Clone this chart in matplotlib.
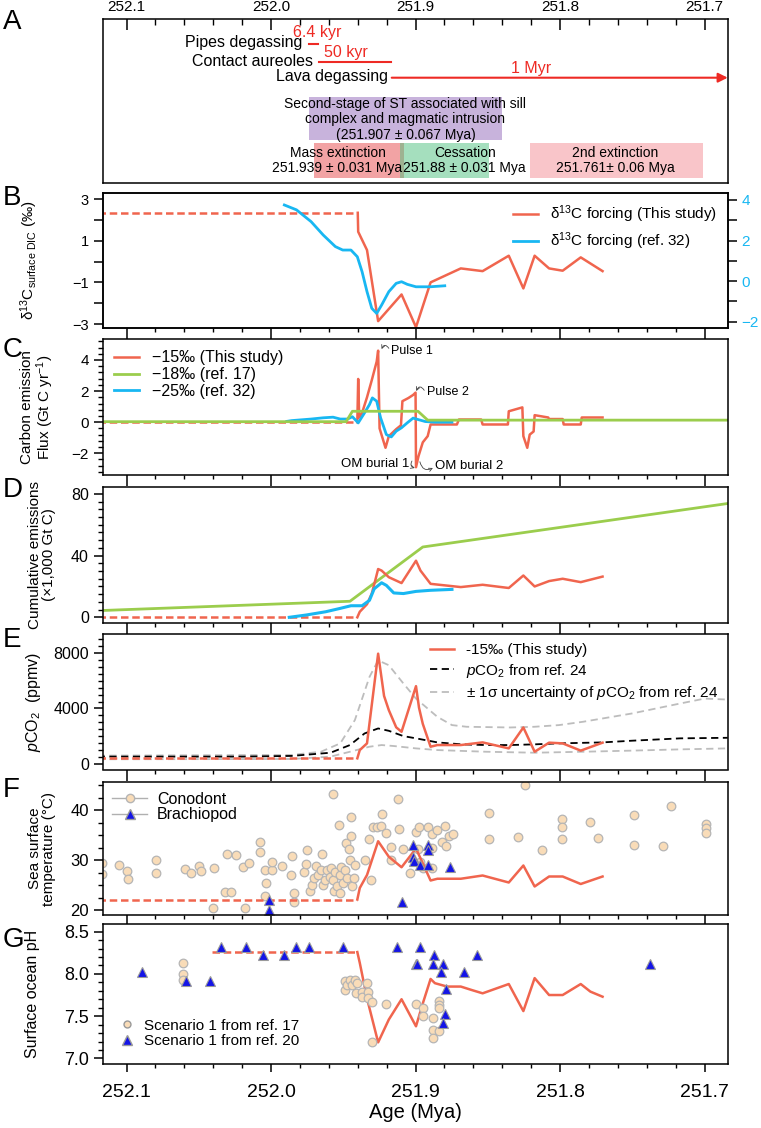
import matplotlib.pyplot as plt
from matplotlib.lines import Line2D
from matplotlib.patches import Rectangle
from matplotlib.ticker import MultipleLocator, FixedLocator, FuncFormatter

plt.rcParams['font.family'] = ['Liberation Sans', 'DejaVu Sans']
plt.rcParams['mathtext.fontset'] = 'custom'
plt.rcParams['mathtext.rm'] = 'Liberation Sans'
plt.rcParams['mathtext.it'] = 'Liberation Sans:italic'
plt.rcParams['axes.linewidth'] = 1.1

RED = '#f0654e'
BLUE = '#18b7f2'
GREEN = '#9bcd4d'
PEACH = '#f9dcb8'
TRI = '#1414e6'

# ---- panel A: events (Mya)
sill_age, sill_err = 251.907, 0.067
event_names = ['Mass extinction', 'Cessation', '2nd extinction']
event_age = [251.939, 251.88, 251.761]
event_err = [0.031, 0.031, 0.06]
event_text = ['251.939 ± 0.031 Mya', '251.88 ± 0.031 Mya', '251.761± 0.06 Mya']
degas_names = ['Pipes degassing', 'Contact aureoles', 'Lava degassing']
degas_start = [251.974, 251.967, 251.9165]
degas_dur = [0.0064, 0.050, 1.0]
degas_dur_text = ['6.4 kyr', '50 kyr', '1 Myr']

# ---- panel B: d13C surface DIC
b_pre_age = [252.12, 251.940]
b_pre = [2.34, 2.34]
b_red_age = [251.9400, 251.9397, 251.9336, 251.9259, 251.9097, 251.8997, 251.8896, 251.8687,
             251.8536, 251.8355, 251.8254, 251.8176, 251.8076, 251.7982, 251.7857, 251.7706]
b_red = [2.34, 1.43, 0.55, -2.86, -1.58, -3.15, -1.0, -0.33, -0.46, 0.28, -1.29, 0.28,
         -0.33, -0.44, 0.2, -0.46]
b_blue_age = [251.9908, 251.9824, 251.9723, 251.9639, 251.9555, 251.9504, 251.9447, 251.9403,
              251.9370, 251.9336, 251.9303, 251.9269, 251.9235, 251.9185, 251.9134, 251.9097,
              251.9057, 251.8997, 251.8899, 251.8798]
b_blue = [3.75, 3.51, 2.93, 2.27, 1.70, 1.53, 1.53, 1.20, 0.46, -0.52, -1.34, -1.59, -1.18,
          -0.52, -0.11, -0.03, -0.16, -0.28, -0.28, -0.23]

# ---- panel C: carbon emission flux
c_pre_age = [252.12, 251.9403]
c_pre = [0.0, 0.0]
c_red_age = [251.9403, 251.9397, 251.9390, 251.9370, 251.9336, 251.9303, 251.9269, 251.9259,
             251.9249, 251.9208, 251.9185, 251.9134, 251.9101, 251.9091, 251.9050, 251.9017,
             251.9000, 251.8997, 251.8980, 251.8950, 251.8916, 251.8896, 251.8714, 251.8700,
             251.8546, 251.8536, 251.8361, 251.8355, 251.8261, 251.8254, 251.8227, 251.8210,
             251.8183, 251.8176, 251.8082, 251.8076, 251.7982, 251.7975, 251.7857, 251.7850,
             251.7706]
c_red = [0.0, 2.78, 0.3, 0.6, 1.6, 2.7, 3.9, 4.6, -0.4, -1.65, -0.9, -0.45, -0.2, 1.35, 1.55,
         1.75, 1.9, -2.9, -2.2, -1.3, -0.9, -0.15, -0.15, 0.17, 0.17, -0.15, -0.15, 0.7, 0.95,
         -0.9, -1.65, -0.8, -0.6, 0.45, 0.3, 0.2, 0.2, -0.15, -0.15, 0.3, 0.3]
c_green_age = [252.12, 251.9481, 251.9437, 251.8983, 251.8916, 251.68]
c_green = [0.03, 0.03, 0.7, 0.7, 0.13, 0.13]
c_blue_age = [251.9891, 251.9857, 251.9723, 251.9639, 251.9571, 251.9521, 251.9471, 251.9437,
              251.9397, 251.9353, 251.9319, 251.9299, 251.9269, 251.9242, 251.9202, 251.9168,
              251.9134, 251.9097, 251.9057, 251.9017, 251.8983, 251.8933, 251.8866, 251.8748]
c_blue = [0.05, 0.1, 0.2, 0.28, 0.32, 0.2, 0.2, 0.35, -0.05, 0.6, 1.13, 1.56, 1.35, 0.28,
          -0.8, -0.95, -0.58, -0.36, -0.04, 0.26, 0.17, 0.04, 0.0, 0.0]

# ---- panel D: cumulative emissions (x1000 Gt C)
d_pre_age = [252.12, 251.9403]
d_pre = [0.0, 0.0]
d_red_age = [251.9403, 251.9386, 251.9336, 251.9303, 251.9279, 251.9259, 251.9235, 251.9185,
             251.9097, 251.8997, 251.8966, 251.8896, 251.8687, 251.8536, 251.8355, 251.8254,
             251.8176, 251.8076, 251.7982, 251.7857, 251.7706]
d_red = [0.0, 3.6, 8.5, 15.4, 23.9, 31.3, 30.3, 26.0, 22.2, 36.7, 30.3, 21.7, 19.6, 21.1,
         19.0, 27.1, 20.0, 23.5, 25.0, 22.8, 26.4]
d_green_age = [252.12, 251.9454, 251.8950, 251.684]
d_green = [4.3, 10.4, 45.6, 73.8]
d_blue_age = [251.9874, 251.9756, 251.9622, 251.9521, 251.9447, 251.9370, 251.9319, 251.9286,
              251.9235, 251.9202, 251.9151, 251.9084, 251.8997, 251.8899, 251.8748]
d_blue = [0.0, 1.5, 3.6, 5.8, 7.5, 7.5, 11.0, 18.5, 22.4, 20.7, 15.8, 15.4, 16.8, 17.5, 18.1]

# ---- panel E: pCO2 (ppmv)
e_pre_age = [252.12, 251.9403]
e_pre = [430, 430]
e_red_age = [251.9403, 251.9386, 251.9336, 251.9259, 251.9218, 251.9185, 251.9134, 251.9097,
             251.8997, 251.8976, 251.8950, 251.8896, 251.8849, 251.8687, 251.8536, 251.8355,
             251.8254, 251.8176, 251.8076, 251.7982, 251.7857, 251.7706]
e_red = [430, 1020, 1500, 7930, 4900, 3880, 2650, 2330, 5600, 4050, 2900, 1260, 1380, 1380,
         1570, 1140, 2640, 900, 1550, 1500, 980, 1550]
e_ref_age = [252.12, 252.0193, 251.9857, 251.9588, 251.9454, 251.9353, 251.9259, 251.9185,
             251.9084, 251.8997, 251.8849, 251.8681, 251.8513, 251.8345, 251.8176, 251.8008,
             251.7706, 251.7504, 251.7168, 251.684]
e_ref = [550, 550, 600, 830, 1380, 2210, 2570, 2400, 2020, 1860, 1570, 1430, 1380, 1380,
         1430, 1500, 1570, 1690, 1860, 1900]
e_hi_age = [252.12, 251.9857, 251.9655, 251.9521, 251.9420, 251.9319, 251.9259, 251.9185,
            251.9084, 251.8997, 251.8849, 251.8748, 251.8647, 251.8345, 251.8176, 251.8008,
            251.7840, 251.7504, 251.7168, 251.7000, 251.684]
e_hi = [620, 670, 900, 1500, 3170, 6260, 7450, 7100, 5790, 4710, 3400, 2810, 2690, 2640,
        2690, 2810, 3050, 3640, 4360, 4710, 4640]
e_lo_age = [252.12, 251.9857, 251.9588, 251.9454, 251.9319, 251.9235, 251.9151, 251.8997,
            251.8849, 251.8513, 251.8176, 251.7840, 251.7504, 251.7168, 251.684]
e_lo = [360, 380, 550, 900, 1260, 1380, 1310, 1140, 1020, 900, 830, 900, 980, 1070, 1140]

# ---- panel F: sea surface temperature
f_pre_age = [252.12, 251.9403]
f_pre = [22.1, 22.1]
f_red_age = [251.9403, 251.9386, 251.9336, 251.9259, 251.9185, 251.9097, 251.8997, 251.8896,
             251.8849, 251.8687, 251.8536, 251.8355, 251.8254, 251.8176, 251.8076, 251.7982,
             251.7857, 251.7706]
f_red = [22.1, 24.4, 27.0, 33.75, 30.65, 28.55, 32.3, 25.9, 26.25, 26.25, 26.9, 25.5, 28.9,
         24.7, 26.7, 26.7, 25.2, 26.7]
cono_age = [252.117, 252.117, 252.105, 252.100, 252.099, 252.0798, 252.0798, 252.0597,
            252.0556, 252.0496, 252.0486, 252.0395, 252.0405, 252.0318, 252.0304, 252.0274,
            252.0244, 252.0193, 252.0183, 252.0153, 252.0076, 252.0076, 252.0042, 252.0035,
            252.0039, 251.9992, 251.9992, 251.9924, 251.9864, 251.9857, 251.9844, 251.9840,
            251.9773, 251.9756, 251.9750, 251.9729, 251.9716, 251.9706, 251.9689, 251.9672,
            251.9655, 251.9645, 251.9639, 251.9629, 251.9615, 251.9595, 251.9588, 251.9571,
            251.9568, 251.9561, 251.9555, 251.9545, 251.9531, 251.9521, 251.9521, 251.9514,
            251.9504, 251.9487, 251.9481, 251.9471, 251.9461, 251.9454, 251.9447, 251.9447,
            251.9437, 251.9420, 251.9427, 251.9353, 251.9319, 251.9309, 251.9292, 251.9269,
            251.9242, 251.9229, 251.9202, 251.9168, 251.9168, 251.9124, 251.9118, 251.9084,
            251.9040, 251.9000, 251.8976, 251.8983, 251.8966, 251.8950, 251.8916, 251.8889,
            251.8889, 251.8889, 251.8855, 251.8815, 251.8798, 251.8788, 251.8771, 251.8741,
            251.8489, 251.8489, 251.8294, 251.8244, 251.8126, 251.7985, 251.7985, 251.7985,
            251.7790, 251.7740, 251.7487, 251.7487, 251.7286, 251.7235, 251.6990, 251.6990,
            251.6990]
cono_sst = [29.5, 27.3, 29.1, 27.9, 26.25, 30.0, 27.4, 28.2, 27.4, 28.8, 27.9, 28.35, 20.45,
            23.55, 31.3, 23.55, 31.1, 28.7, 20.45, 29.5, 33.6, 31.65, 28.0, 25.4, 22.8, 28.0,
            29.7, 28.8, 27.05, 30.8, 23.4, 21.6, 27.7, 29.2, 32.1, 23.75, 25.05, 26.4, 28.8,
            27.05, 28.0, 31.2, 25.05, 26.05, 28.0, 26.7, 28.35, 43.15, 26.05, 23.75, 27.7,
            24.75, 37.05, 27.05, 23.4, 28.7, 25.4, 28.0, 33.4, 26.4, 32.3, 30.0, 34.9, 38.55,
            24.75, 29.0, 26.4, 30.1, 34.3, 26.05, 36.6, 36.7, 36.9, 39.2, 35.4, 32.6, 30.0,
            42.2, 36.25, 32.3, 27.4, 35.6, 36.7, 32.3, 29.7, 28.35, 36.6, 35.25, 32.5, 28.35,
            36.05, 33.6, 36.9, 32.75, 34.75, 35.15, 39.35, 34.3, 34.6, 45.1, 32.1, 38.15,
            36.6, 34.3, 37.7, 34.5, 39.1, 33.0, 32.8, 40.8, 37.25, 36.4, 35.4]
brach_age = [252.0015, 252.0015, 251.9097, 251.9017, 251.9017, 251.9010, 251.8966, 251.8916,
             251.8916, 251.8916, 251.8761]
brach_sst = [22.1, 20.1, 21.6, 33.0, 30.65, 29.9, 29.0, 33.0, 32.0, 29.0, 28.7]

# ---- panel G: surface ocean pH
g_pre_age = [252.0412, 251.9403]
g_pre = [8.258, 8.258]
g_red_age = [251.9403, 251.9386, 251.9336, 251.9259, 251.9185, 251.9097, 251.8997, 251.8950,
             251.8896, 251.8866, 251.8782, 251.8687, 251.8613, 251.8536, 251.8355, 251.8254,
             251.8176, 251.8076, 251.7982, 251.7857, 251.7790, 251.7706]
g_red = [8.258, 8.13, 7.71, 7.19, 7.46, 7.70, 7.38, 7.65, 7.94, 7.89, 7.85, 7.85, 7.81, 7.77,
         7.88, 7.56, 7.95, 7.75, 7.75, 7.88, 7.79, 7.73]
ph17_age = [252.0607, 252.0607, 252.0607, 251.9487, 251.9487, 251.9477, 251.9454, 251.9437,
            251.9420, 251.9403, 251.9410, 251.9370, 251.9370, 251.9336, 251.9329, 251.9329,
            251.9303, 251.9303, 251.9202, 251.9000, 251.8950, 251.8950, 251.8882, 251.8882,
            251.8882, 251.8839, 251.8839, 251.8839, 251.8839]
ph17 = [8.13, 8.0, 7.93, 7.91, 7.81, 7.87, 7.93, 7.87, 7.93, 7.89, 7.77, 7.79, 7.73, 7.89,
        7.79, 7.71, 7.67, 7.19, 7.64, 7.64, 7.60, 7.50, 7.48, 7.34, 7.24, 7.68, 7.63, 7.60, 7.32]
ph20_age = [252.0892, 252.0587, 252.0422, 252.0345, 252.0176, 252.0059, 251.9908, 251.9824,
            251.9739, 251.9504, 251.9128, 251.9000, 251.8990, 251.8966, 251.8872, 251.8882,
            251.8808, 251.8822, 251.8788, 251.8798, 251.8808, 251.8664, 251.8573, 251.7377]
ph20 = [8.02, 7.91, 7.91, 8.32, 8.32, 8.22, 8.22, 8.32, 8.32, 8.32, 8.32, 8.12, 8.12, 8.32,
        8.22, 8.12, 8.12, 8.02, 7.82, 7.52, 7.42, 8.02, 8.22, 8.12]

XLIM = (252.1165, 251.684)
H = 1128.0


def make_ax(top, bottom):
    return fig.add_axes([102.7 / 761, 1 - bottom / H, 625 / 761, (bottom - top) / H])


def style_x(ax, last=False):
    ax.set_xlim(XLIM)
    ax.xaxis.set_major_locator(MultipleLocator(0.1))
    ax.xaxis.set_minor_locator(MultipleLocator(0.02))
    if last:
        ax.tick_params(axis='x', which='major', direction='out', length=5.5, width=1.1,
                       labelsize=14, pad=9)
        ax.tick_params(axis='x', which='minor', direction='out', length=3, width=1)
    else:
        ax.tick_params(axis='x', which='major', direction='out', length=8, width=1.1,
                       labelbottom=False)
        ax.tick_params(axis='x', which='minor', direction='out', length=3.2, width=1)


def style_y(ax, size):
    ax.tick_params(axis='y', which='major', direction='out', length=6.5, width=1.1,
                   labelsize=size)
    ax.tick_params(axis='y', which='minor', direction='out', length=3.5, width=1)


fig = plt.figure(figsize=(7.61, 11.28), dpi=100)

# ---------------- A
axA = make_ax(19.3, 183.3)
axA.set_xlim(XLIM)
axA.set_ylim(183.3, 19.3)
axA.set_yticks([])
axA.xaxis.tick_top()
axA.xaxis.set_major_locator(MultipleLocator(0.1))
axA.xaxis.set_minor_locator(MultipleLocator(0.02))
axA.xaxis.set_major_formatter(FuncFormatter(lambda v, p: f'{v:.1f}'))
axA.tick_params(axis='x', which='major', direction='in', length=8, width=1.1, labelsize=11, pad=4)
axA.tick_params(axis='x', which='minor', direction='in', length=4.5, width=1)

axA.add_patch(Rectangle((sill_age - sill_err, 96.7), 2 * sill_err, 43.3, color='#c8b3dc', lw=0))
axA.text(sill_age, 104.3, 'Second-stage of ST associated with sill', ha='center', va='center', fontsize=10)
axA.text(sill_age, 119.5, 'complex and magmatic intrusion', ha='center', va='center', fontsize=10)
axA.text(sill_age, 135, f'({sill_age} ± {sill_err} Mya)', ha='center', va='center', fontsize=10)

box_colors = ['#e8585a', '#4cc17f', '#f6a7ad']
box_alpha = [0.55, 0.5, 0.65]
label_x = [251.954, 251.866, 251.762]
for i in range(3):
    axA.add_patch(Rectangle((event_age[i] - event_err[i], 142.7), 2 * event_err[i], 35.6,
                            color=box_colors[i], alpha=box_alpha[i], lw=0))
    axA.text(label_x[i], 152.7, event_names[i], ha='center', va='center', fontsize=10)
    axA.text(label_x[i], 168.3, event_text[i], ha='center', va='center', fontsize=10)

dg_y = [44.3, 61.7, 77.7]
for i in range(2):
    axA.plot([degas_start[i], degas_start[i] - degas_dur[i]], [dg_y[i], dg_y[i]], color='#ee2a24', lw=1.5)
axA.annotate('', xy=(XLIM[1], dg_y[2]), xytext=(degas_start[2], dg_y[2]),
             arrowprops=dict(arrowstyle='-|>', color='#ee2a24', lw=1.5, mutation_scale=14,
                             shrinkA=0, shrinkB=0))
axA.text(251.978, 43, degas_names[0], ha='right', va='center', fontsize=11.5)
axA.text(251.971, 61, degas_names[1], ha='right', va='center', fontsize=11.5)
axA.text(251.919, 76.5, degas_names[2], ha='right', va='center', fontsize=11.5)
axA.text(251.968, 32.5, degas_dur_text[0], ha='center', va='center', fontsize=11.5, color='#ee2a24')
axA.text(251.948, 52, degas_dur_text[1], ha='center', va='center', fontsize=11.5, color='#ee2a24')
axA.text(251.820, 69, degas_dur_text[2], ha='center', va='center', fontsize=11.5, color='#ee2a24')

# ---------------- B
axB = make_ax(193, 328)
axB.plot(b_pre_age, b_pre, color=RED, lw=1.8, ls=(0, (3, 1.5)))
axB.plot(b_red_age, b_red, color=RED, lw=1.8)
axB.set_ylim(-3.19, 3.29)
axB.yaxis.set_major_locator(FixedLocator([-3, -2, -1, 0, 1, 2, 3]))
axB.yaxis.set_major_formatter(FuncFormatter(lambda v, p: f'{v:.0f}'.replace('-', '\u2212') if int(round(v)) % 2 else ''))
style_x(axB)
style_y(axB, 10.5)
axB.set_ylabel('δ$^{13}$C$_{\\mathrm{surface\\ DIC}}$ (‰)', fontsize=11)
axB.yaxis.set_label_coords(-0.1, 0.5)
axBr = axB.twinx()
axBr.plot(b_blue_age, b_blue, color=BLUE, lw=2)
axBr.set_ylim(-2.31, 4.34)
axBr.yaxis.set_major_locator(MultipleLocator(2))
axBr.yaxis.set_minor_locator(MultipleLocator(1))
axBr.tick_params(axis='y', which='major', direction='out', length=6.5, width=1.1,
                 labelsize=11, labelcolor=BLUE)
axBr.tick_params(axis='y', which='minor', direction='out', length=6.5, width=1.1)
axBr.set_xlim(XLIM)
hB = [Line2D([], [], color=RED, lw=1.8), Line2D([], [], color=BLUE, lw=2)]
axB.legend(hB, ['δ$^{13}$C forcing (This study)', 'δ$^{13}$C forcing (ref. 32)'],
           loc='upper right', frameon=False, fontsize=11, handlelength=1.6,
           handletextpad=0.8, labelspacing=0.35, borderaxespad=0.3)

# ---------------- C
axC = make_ax(339, 475)
axC.plot(c_pre_age, c_pre, color=RED, lw=1.8, ls=(0, (3, 1.5)))
axC.plot(c_red_age, c_red, color=RED, lw=1.8)
axC.plot(c_blue_age, c_blue, color=BLUE, lw=2)
axC.plot(c_green_age, c_green, color=GREEN, lw=2)
axC.set_ylim(-3.4, 5.35)
axC.yaxis.set_major_locator(MultipleLocator(2))
axC.yaxis.set_minor_locator(MultipleLocator(0.4))
style_x(axC)
style_y(axC, 11)
axC.set_ylabel('Carbon emission\nFlux (Gt C yr$^{-1}$)', fontsize=11, linespacing=1.0)
axC.yaxis.set_label_coords(-0.075, 0.5)
hC = [Line2D([], [], color=RED, lw=1.8), Line2D([], [], color=GREEN, lw=2),
      Line2D([], [], color=BLUE, lw=2)]
axC.legend(hC, ['\u221215‰ (This study)', '\u221218‰ (ref. 17)', '\u221225‰ (ref. 32)'],
           loc='upper left', frameon=False, fontsize=11.5, handlelength=1.6,
           handletextpad=0.8, labelspacing=0.12, borderaxespad=0.3)
arrow_kw = dict(arrowstyle='->', lw=0.6, color='#444444', mutation_scale=6, shrinkA=0, shrinkB=0)
axC.text(251.9168, 4.56, 'Pulse 1', ha='left', va='center', fontsize=9)
axC.annotate('', xy=(251.9235, 4.7), xytext=(251.9185, 4.75),
             arrowprops=dict(connectionstyle='arc3,rad=0.9', **arrow_kw))
axC.text(251.8923, 1.95, 'Pulse 2', ha='left', va='center', fontsize=9)
axC.annotate('', xy=(251.8995, 2.0), xytext=(251.8940, 2.05),
             arrowprops=dict(connectionstyle='arc3,rad=0.9', **arrow_kw))
axC.text(251.9040, -2.72, 'OM burial 1', ha='right', va='center', fontsize=9.5)
axC.annotate('', xy=(251.9005, -2.95), xytext=(251.9025, -2.5),
             arrowprops=dict(connectionstyle='arc3,rad=0.6', **arrow_kw))
axC.text(251.8866, -2.85, 'OM burial 2', ha='left', va='center', fontsize=9.5)
axC.annotate('', xy=(251.8880, -2.95), xytext=(251.8970, -2.55),
             arrowprops=dict(connectionstyle='arc3,rad=0.6', **arrow_kw))

# ---------------- D
axD = make_ax(487, 622.7)
axD.plot(d_green_age, d_green, color=GREEN, lw=2)
axD.plot(d_pre_age, d_pre, color=RED, lw=1.8, ls=(0, (3, 1.5)))
axD.plot(d_red_age, d_red, color=RED, lw=1.8)
axD.plot(d_blue_age, d_blue, color=BLUE, lw=2.2)
axD.set_ylim(-3.5, 84.5)
axD.yaxis.set_major_locator(MultipleLocator(40))
axD.yaxis.set_minor_locator(MultipleLocator(5))
style_x(axD)
style_y(axD, 11.5)
axD.set_ylabel('Cumulative emissions\n(×1,000 Gt C)', fontsize=11, linespacing=1.0)
axD.yaxis.set_label_coords(-0.075, 0.5)

# ---------------- E
axE = make_ax(634, 769.5)
axE.plot(e_hi_age, e_hi, color='#bdbdbd', lw=1.3, ls=(0, (4, 2.5)))
axE.plot(e_lo_age, e_lo, color='#bdbdbd', lw=1.3, ls=(0, (4, 2.5)))
axE.plot(e_ref_age, e_ref, color='black', lw=1.3, ls=(0, (4, 2.5)))
axE.plot(e_pre_age, e_pre, color=RED, lw=1.8, ls=(0, (3, 1.5)))
axE.plot(e_red_age, e_red, color=RED, lw=1.8)
axE.set_ylim(-373, 9340)
axE.yaxis.set_major_locator(MultipleLocator(4000))
axE.yaxis.set_minor_locator(MultipleLocator(500))
style_x(axE)
style_y(axE, 11.5)
axE.set_ylabel('$p$CO$_2$  (ppmv)', fontsize=11.5)
axE.yaxis.set_label_coords(-0.095, 0.5)
hE = [Line2D([], [], color=RED, lw=1.8),
      Line2D([], [], color='black', lw=1.3, ls=(0, (4, 2.5))),
      Line2D([], [], color='#bdbdbd', lw=1.3, ls=(0, (4, 2.5)))]
axE.legend(hE, ['-15‰ (This study)', '$p$CO$_2$ from ref. 24',
                '± 1σ uncertainty of $p$CO$_2$ from ref. 24'],
           loc='upper right', frameon=False, fontsize=11, handlelength=1.6,
           handletextpad=0.8, labelspacing=0.3, borderaxespad=0.2)

# ---------------- F
axF = make_ax(782, 915)
axF.plot(cono_age, cono_sst, ls='none', marker='o', ms=6.2, mfc=PEACH, mec='#b5b5b5', mew=0.9)
axF.plot(f_pre_age, f_pre, color=RED, lw=1.8, ls=(0, (3, 1.5)))
axF.plot(f_red_age, f_red, color=RED, lw=1.8)
axF.plot(brach_age, brach_sst, ls='none', marker='^', ms=7, mfc=TRI, mec='#9a9a9a', mew=0.8)
axF.set_ylim(19, 45.6)
axF.yaxis.set_major_locator(MultipleLocator(10))
axF.yaxis.set_minor_locator(MultipleLocator(2.5))
style_x(axF)
style_y(axF, 12)
axF.set_ylabel('Sea surface\ntemperature (°C)', fontsize=11, linespacing=1.0)
axF.yaxis.set_label_coords(-0.075, 0.5)
hF = [Line2D([], [], color='#b0b0b0', lw=1, marker='o', ms=6, mfc=PEACH, mec='#b5b5b5'),
      Line2D([], [], color='#b0b0b0', lw=1, marker='^', ms=6.5, mfc=TRI, mec='#9a9a9a')]
axF.legend(hF, ['Conodont', 'Brachiopod'], loc='upper left', frameon=False, fontsize=11.5,
           handlelength=2.2, handletextpad=0.6, labelspacing=0.05, borderaxespad=0.2)

# ---------------- G
axG = make_ax(924, 1063.5)
axG.plot(g_pre_age, g_pre, color=RED, lw=1.8, ls=(0, (3, 1.5)))
axG.plot(g_red_age, g_red, color=RED, lw=1.8)
axG.plot(ph17_age, ph17, ls='none', marker='o', ms=6.2, mfc=PEACH, mec='#b5b5b5', mew=0.9)
axG.plot(ph20_age, ph20, ls='none', marker='^', ms=7.5, mfc=TRI, mec='#9a9a9a', mew=0.8)
axG.set_ylim(6.94, 8.59)
axG.yaxis.set_major_locator(MultipleLocator(0.5))
axG.yaxis.set_minor_locator(MultipleLocator(0.1))
axG.yaxis.set_major_formatter(FuncFormatter(lambda v, p: f'{v:.1f}'))
axG.xaxis.set_major_formatter(FuncFormatter(lambda v, p: f'{v:.1f}'))
style_x(axG, last=True)
style_y(axG, 13)
axG.set_ylabel('Surface ocean pH', fontsize=11.5)
axG.yaxis.set_label_coords(-0.1, 0.5)
axG.set_xlabel('Age (Mya)', fontsize=14.5, labelpad=2)
hG = [Line2D([], [], ls='none', marker='o', ms=5, mfc=PEACH, mec='#999999'),
      Line2D([], [], ls='none', marker='^', ms=7, mfc=TRI, mec='#9a9a9a')]
axG.legend(hG, ['Scenario 1 from ref. 17', 'Scenario 1 from ref. 20'], loc='lower left',
           frameon=False, fontsize=11, handlelength=1.2, handletextpad=0.5,
           labelspacing=0.1, borderaxespad=0.6)

for letter, ypix in zip('ABCDEFG', [22, 198, 350, 490, 640, 790, 940]):
    fig.text(3 / 761, 1 - ypix / H, letter, fontsize=20, va='center', ha='left')

fig.savefig('out.png', dpi=100)
